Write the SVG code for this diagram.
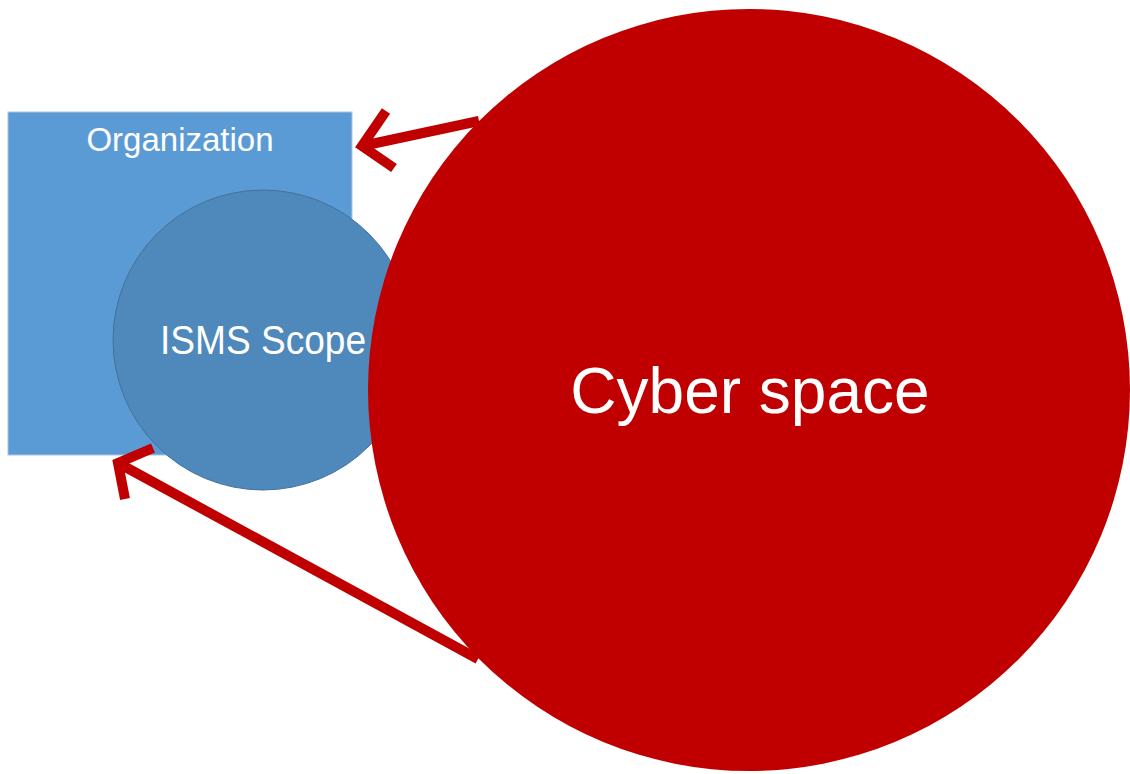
<svg xmlns="http://www.w3.org/2000/svg" width="1130" height="774" viewBox="0 0 1130 774">
  <style>
    .lbl { font-family: "Liberation Sans", Arial, sans-serif; fill: #ffffff; text-anchor: middle; }
    .arrow { fill: none; stroke: #c00000; stroke-width: 10; stroke-linejoin: miter; stroke-linecap: butt; }
  </style>
  <rect x="0" y="0" width="1130" height="774" fill="#ffffff"/>

  <g id="organization">
    <rect x="8" y="112" width="344" height="343" fill="#5b9bd5" stroke="#a9c4de" stroke-width="1"/>
    <text class="lbl" x="180" y="151" font-size="33">Organization</text>
  </g>

  <g id="isms-scope">
    <circle cx="263" cy="340" r="150" fill="#4f88bb" stroke="#41719c" stroke-width="1"/>
    <text class="lbl" x="263" y="354" font-size="40" textLength="206" lengthAdjust="spacingAndGlyphs">ISMS Scope</text>
  </g>

  <g id="cyber-space">
    <circle cx="749" cy="390" r="381" fill="#c00000"/>
    <text class="lbl" x="750" y="413" font-size="64">Cyber space</text>
  </g>

  <g id="connectors">
    <!-- upper arrow towards the organization box -->
    <line class="arrow" x1="479" y1="121" x2="362" y2="146"/>
    <polyline class="arrow" points="386,111 362,146 394,168"/>
    <!-- lower arrow towards the organization box -->
    <line class="arrow" x1="478" y1="659" x2="118" y2="463"/>
    <polyline class="arrow" points="153,448 118,463 125,499"/>
  </g>
</svg>
